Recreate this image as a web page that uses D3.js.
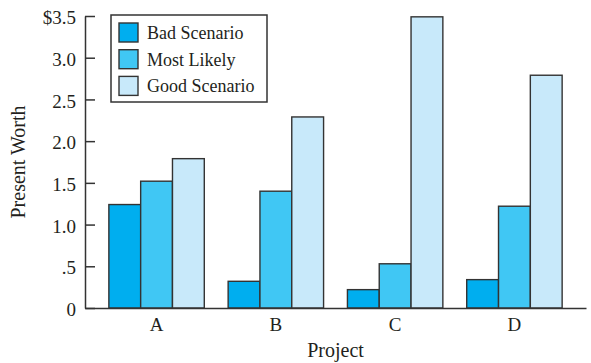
<!DOCTYPE html>
<html>
<head>
<meta charset="utf-8">
<script src="https://cdn.jsdelivr.net/npm/d3@7"></script>
<style>
  body { margin: 0; background: #fff; }
  svg { display: block; }
  text { font-family: "Liberation Serif", "Times New Roman", serif; fill: #231f20; }
</style>
</head>
<body>
<svg id="chart" width="591" height="363"></svg>
<script>
const projects = ["A", "B", "C", "D"];
const seriesNames = ["Bad Scenario", "Most Likely", "Good Scenario"];
const badScenario = [1.24, 0.32, 0.22, 0.34];
const mostLikely = [1.52, 1.40, 0.53, 1.22];
const goodScenario = [1.79, 2.29, 3.49, 2.79];
const yTickValues = [0, 0.5, 1.0, 1.5, 2.0, 2.5, 3.0, 3.5];
const yTickLabels = ["0", ".5", "1.0", "1.5", "2.0", "2.5", "3.0", "$3.5"];
const colors = ["#00aeef", "#40c7f4", "#c8e9fa"];

(function () {
const seriesValues = [badScenario, mostLikely, goodScenario];
const stroke = "#333333";

const svg = d3.select("#chart");
const mLeft = 85, mRight = 586, mTop = 16, mBottom = 308;

const x = d3.scaleBand().domain(projects).range([mLeft, mRight]).paddingInner(0.2).paddingOuter(0.2);
const xs = d3.scaleBand().domain(seriesNames).range([0, x.bandwidth()]);
const y = d3.scaleLinear().domain([0, 3.5]).range([mBottom, mTop]);

// bars
const groups = svg.append("g").selectAll("g").data(projects).join("g")
  .attr("transform", d => `translate(${x(d)},0)`);
groups.selectAll("rect")
  .data((p, i) => seriesNames.map((s, k) => ({ s, k, v: seriesValues[k][i] })))
  .join("rect")
  .attr("x", d => xs(d.s))
  .attr("width", xs.bandwidth())
  .attr("y", d => y(d.v))
  .attr("height", d => y(0) - y(d.v))
  .attr("fill", d => colors[d.k])
  .attr("stroke", stroke)
  .attr("stroke-width", 1.4);

// y axis
const yAxis = svg.append("g").attr("transform", `translate(${mLeft},0)`)
  .call(d3.axisLeft(y).tickValues(yTickValues)
    .tickFormat((d, i) => yTickLabels[i])
    .tickSizeInner(-10).tickSizeOuter(0).tickPadding(9));
yAxis.select(".domain").attr("stroke", stroke).attr("stroke-width", 1.5);
yAxis.selectAll(".tick line").attr("stroke", stroke).attr("stroke-width", 1.5);
yAxis.selectAll(".tick text").attr("font-size", 19).attr("dy", "0.4em")
  .style("font-family", "'Liberation Serif', serif").attr("fill", "#231f20");

// x axis
const xAxis = svg.append("g").attr("transform", `translate(0,${mBottom})`)
  .call(d3.axisBottom(x).tickSize(0).tickPadding(10));
xAxis.select(".domain").attr("stroke", stroke).attr("stroke-width", 1.5);
xAxis.selectAll(".tick text").attr("font-size", 19)
  .style("font-family", "'Liberation Serif', serif").attr("fill", "#231f20");

// axis titles
svg.append("text").attr("x", (mLeft + mRight) / 2).attr("y", 357)
  .attr("text-anchor", "middle").attr("font-size", 20).text("Project");
svg.append("text").attr("transform", `translate(25,${(mTop + mBottom) / 2}) rotate(-90)`)
  .attr("text-anchor", "middle").attr("font-size", 20).text("Present Worth");

// legend
const legend = svg.append("g");
legend.append("rect").attr("x", 111).attr("y", 15).attr("width", 156).attr("height", 87)
  .attr("fill", "#fff").attr("stroke", stroke).attr("stroke-width", 1.5);
const items = legend.selectAll("g.item").data(seriesNames).join("g")
  .attr("transform", (d, i) => `translate(119,${23 + i * 26.7})`);
items.append("rect").attr("width", 19).attr("height", 19)
  .attr("fill", (d, i) => colors[i]).attr("stroke", stroke).attr("stroke-width", 1.4);
items.append("text").attr("x", 28).attr("y", 16).attr("font-size", 18).text(d => d);
})();
</script>
</body>
</html>
